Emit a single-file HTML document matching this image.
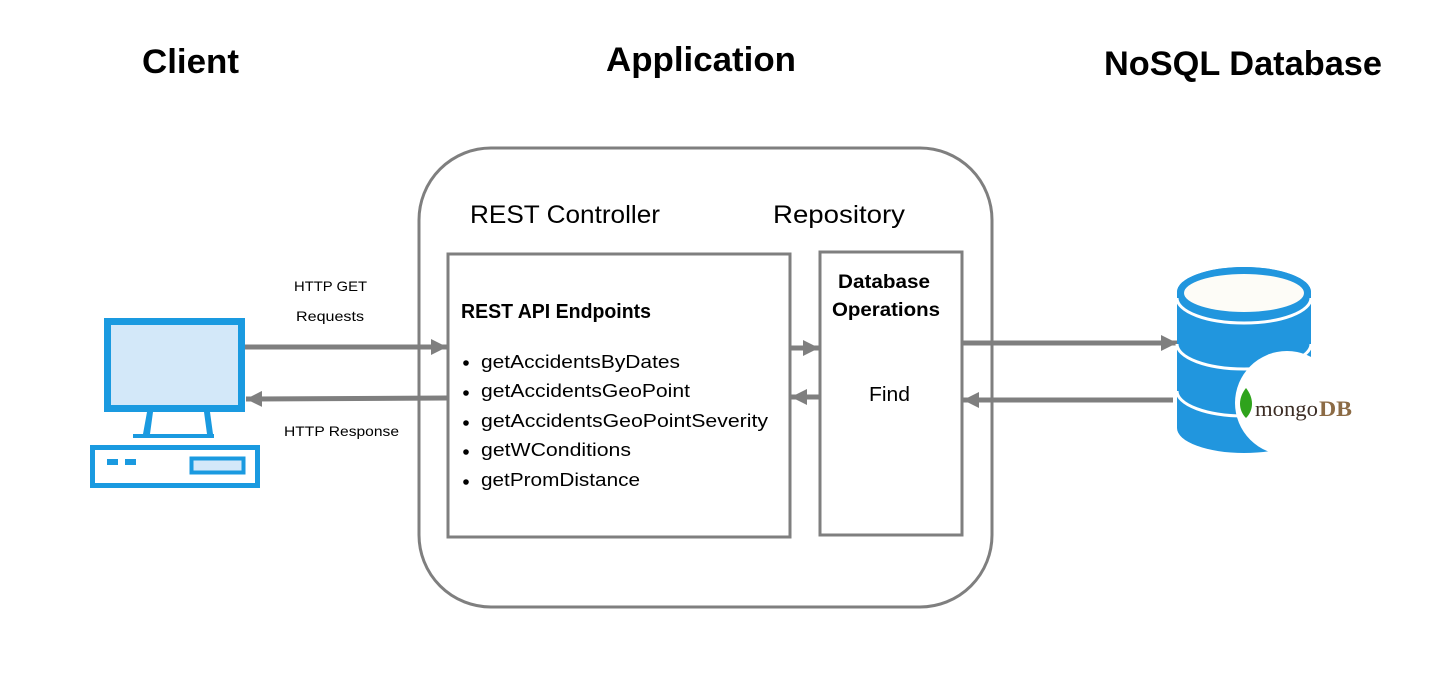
<!DOCTYPE html>
<html><head><meta charset="utf-8"><style>
html,body{margin:0;padding:0;background:#fff;}
svg{display:block;font-family:"Liberation Sans",sans-serif;}
</style></head><body>
<svg width="1432" height="692" viewBox="0 0 1432 692" xmlns="http://www.w3.org/2000/svg">
<defs>
<marker id="ah" markerWidth="16" markerHeight="16" refX="10" refY="5" orient="auto" markerUnits="userSpaceOnUse" viewBox="0 0 10 10">
<path d="M0,0 L10,5 L0,10 z" fill="#7f7f7f"/></marker>
</defs>
<g font-weight="bold" font-size="34" fill="#000">
<text x="142" y="73" textLength="97" lengthAdjust="spacingAndGlyphs">Client</text>
<text x="606" y="71" textLength="190" lengthAdjust="spacingAndGlyphs">Application</text>
<text x="1104" y="75" textLength="278" lengthAdjust="spacingAndGlyphs">NoSQL Database</text>
</g>
<rect x="419" y="148" width="573" height="459" rx="72" fill="none" stroke="#7f7f7f" stroke-width="3"/>
<text x="470" y="223" font-size="25" textLength="190" lengthAdjust="spacingAndGlyphs">REST Controller</text>
<text x="773" y="223" font-size="25" textLength="132" lengthAdjust="spacingAndGlyphs">Repository</text>
<rect x="448" y="254" width="342" height="283" fill="none" stroke="#7f7f7f" stroke-width="3"/>
<rect x="820" y="252" width="142" height="283" fill="none" stroke="#7f7f7f" stroke-width="3"/>
<text x="461" y="318" font-size="20" font-weight="bold" textLength="190" lengthAdjust="spacingAndGlyphs">REST API Endpoints</text>
<g font-size="18" fill="#000">
<circle cx="466" cy="363" r="2.8"/><text x="481" y="368" textLength="199" lengthAdjust="spacingAndGlyphs">getAccidentsByDates</text>
<circle cx="466" cy="393" r="2.8"/><text x="481" y="397" textLength="209" lengthAdjust="spacingAndGlyphs">getAccidentsGeoPoint</text>
<circle cx="466" cy="423" r="2.8"/><text x="481" y="427" textLength="287" lengthAdjust="spacingAndGlyphs">getAccidentsGeoPointSeverity</text>
<circle cx="466" cy="452" r="2.8"/><text x="481" y="456" textLength="150" lengthAdjust="spacingAndGlyphs">getWConditions</text>
<circle cx="466" cy="482" r="2.8"/><text x="481" y="486" textLength="159" lengthAdjust="spacingAndGlyphs">getPromDistance</text>
</g>
<text x="838" y="288" font-size="19" font-weight="bold" textLength="92" lengthAdjust="spacingAndGlyphs">Database</text>
<text x="832" y="316" font-size="19" font-weight="bold" textLength="108" lengthAdjust="spacingAndGlyphs">Operations</text>
<text x="869" y="401" font-size="20" textLength="41" lengthAdjust="spacingAndGlyphs">Find</text>
<text x="294" y="291" font-size="14" textLength="73" lengthAdjust="spacingAndGlyphs">HTTP GET</text>
<text x="296" y="321" font-size="14" textLength="68" lengthAdjust="spacingAndGlyphs">Requests</text>
<text x="284" y="436" font-size="14" textLength="115" lengthAdjust="spacingAndGlyphs">HTTP Response</text>
<g stroke="#7f7f7f" stroke-width="5" fill="none">
<line x1="244" y1="347" x2="447" y2="347" marker-end="url(#ah)"/>
<line x1="447" y1="398" x2="246" y2="399" marker-end="url(#ah)"/>
<line x1="790" y1="348" x2="819" y2="348" marker-end="url(#ah)"/>
<line x1="820" y1="397" x2="791" y2="397" marker-end="url(#ah)"/>
<line x1="962" y1="343" x2="1177" y2="343" marker-end="url(#ah)"/>
<line x1="1173" y1="400" x2="963" y2="400" marker-end="url(#ah)"/>
</g>
<!-- computer -->
<rect x="107.5" y="321.5" width="134" height="87" fill="#d3e8f9" stroke="#1a9ae0" stroke-width="7"/>
<path d="M147,412 L153,412 L150,434 L207,434 L204,412 L210,412 L213,434 L214,434 L214,438 L133,438 L133,434 L143,434 z" fill="#1a9ae0"/>
<rect x="92.5" y="447.5" width="165" height="38" fill="#fff" stroke="#1a9ae0" stroke-width="5"/>
<rect x="107" y="459" width="11" height="6" fill="#1a9ae0"/>
<rect x="125" y="459" width="11" height="6" fill="#1a9ae0"/>
<rect x="191.5" y="458.5" width="52" height="14" fill="#d3e8f9" stroke="#1a9ae0" stroke-width="4"/>
<!-- database -->
<path d="M1177,292 L1177,428 A67,25 0 0 0 1311,428 L1311,292 A67,25 0 0 0 1177,292 z" fill="#2196de"/>
<ellipse cx="1244" cy="292" rx="67" ry="25" fill="#2196de"/>
<ellipse cx="1244" cy="293" rx="60" ry="19" fill="#fdfcf7"/>
<path d="M1177,298 A67,25 0 0 0 1311,298" fill="none" stroke="#fff" stroke-width="3"/>
<path d="M1177,344 A67,25 0 0 0 1311,344" fill="none" stroke="#fff" stroke-width="3"/>
<path d="M1177,391 A67,25 0 0 0 1311,391" fill="none" stroke="#fff" stroke-width="3"/>
<circle cx="1287" cy="403" r="52" fill="#fff"/>
<path d="M1246,388 C1238,398 1238,410 1246,418 C1254,410 1254,398 1246,388 z" fill="#2fa31c"/>
<text x="1255" y="416" font-family="Liberation Serif,serif" font-size="22" fill="#3c2d25" textLength="63" lengthAdjust="spacingAndGlyphs">mongo</text>
<text x="1319" y="416" font-family="Liberation Serif,serif" font-size="22" font-weight="bold" fill="#8c6b45" textLength="33" lengthAdjust="spacingAndGlyphs">DB</text>
</svg>
</body></html>
